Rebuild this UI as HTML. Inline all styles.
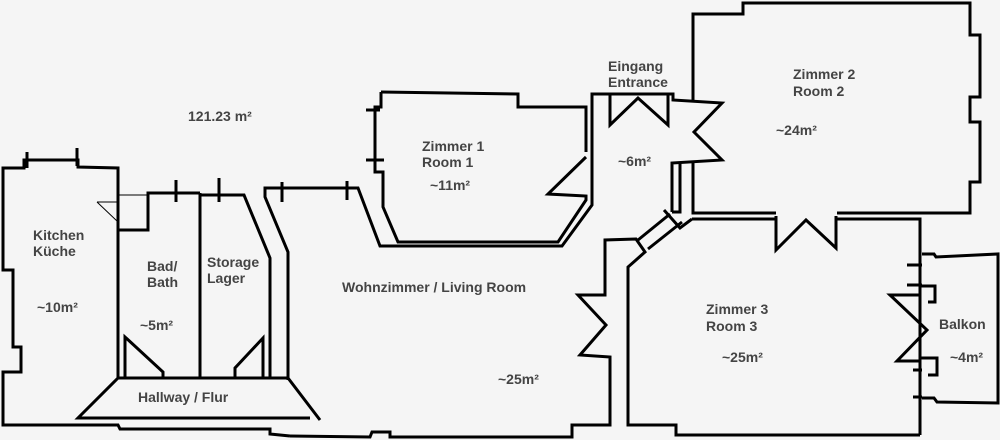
<!DOCTYPE html>
<html><head><meta charset="utf-8"><style>
html,body{margin:0;padding:0;background:#f5f5f5;}
svg{display:block}
text{font-family:"Liberation Sans","DejaVu Sans",sans-serif;font-size:14px;fill:#444;font-weight:bold}
</style></head><body>
<svg width="1000" height="440" viewBox="0 0 1000 440" xmlns="http://www.w3.org/2000/svg">
<rect width="1000" height="440" fill="#f5f5f5"/>
<g fill="none" stroke="#000" stroke-width="3" stroke-linejoin="miter">
<polyline points="118,378 118,168 78,167 78,160 24,160 24,168 3,168 3,270 13,270 13,347 21,347 21,372 3,372 3,425 118,425 120,429 270,429 270,434 290,436"/>
<line x1="27" y1="152" x2="27" y2="168"/><line x1="77" y1="148" x2="77" y2="166"/>
<polyline points="118,230 148,230 148,193 200,193"/>
<line x1="176" y1="180" x2="176" y2="202"/><line x1="219" y1="178" x2="219" y2="202"/>
<line x1="200" y1="193" x2="200" y2="378"/>
<polyline points="200,195 244,195 270,258 270,378"/>
<polyline points="163,378 163,372 125,337 125,378"/>
<polyline points="235,378 235,368 263,338 263,378"/>
<polyline points="118,378 288,378 320,420"/>
<polyline points="118,378 78,418 310,418"/>
<polyline points="288,380 288,252 265,197 265,188 358,188 380,246 562,246 592,205 592,94 673,94 673,100 722,103 694,132 722,160 672,163 672,212"/>
<line x1="282" y1="182" x2="282" y2="202"/><line x1="347" y1="181" x2="347" y2="200"/>
<polyline points="290,436 370,437 372,432 390,432 390,437 572,437 572,425 610,425 610,357 580,355 606,325 578,295 605,295 605,240 636,239 645,252 628,267 628,295"/>
<polyline points="628,295 628,425 676,425 676,435 920,435"/>
<polyline points="381,92 518,94 518,107 586,107 586,152"/>
<polyline points="381,92 381,107 375,107 375,172 383,172 383,207 398,242 558,242 586,200 586,196 548,194 586,157"/>
<line x1="366" y1="110" x2="380" y2="110"/><line x1="366" y1="160" x2="384" y2="160"/>
<polyline points="610,95 610,125 638,98 668,125 668,95"/>
<polyline points="693,101 693,14 743,14 743,3 970,3 970,35 980,35 980,97 970,97 970,122 980,122 980,182 970,182 970,213 837,213"/>
<polyline points="672,212 680,212 680,163"/>
<polyline points="693,163 693,213 776,213"/>
<polyline points="776,216 776,250 806,220 836,248 836,216"/>
<polyline points="692,219 776,219"/><polyline points="836,219 920,219 920,435"/>
<line x1="670" y1="214" x2="638" y2="240"/><line x1="682" y1="222" x2="648" y2="249"/>
<polyline points="664,210 680,228 692,219"/>
<polyline points="920,295 890,295 927,330 897,361 920,361"/>
<polyline points="922,254 934,254 936,257 998,254 998,403 937,402 934,398 922,398"/>
<line x1="907" y1="265" x2="922" y2="265"/><line x1="907" y1="285" x2="922" y2="285"/>
<line x1="913" y1="370" x2="922" y2="370"/><line x1="913" y1="397" x2="922" y2="397"/>
<polyline points="920,286 935,286 935,302 928,302"/>
<polyline points="920,358 937,358 937,375 928,375"/>
</g>
<g stroke="#000" stroke-width="1" fill="none">
<line x1="118" y1="195" x2="148" y2="195"/>
<polyline points="97,202 118,202 118,222 97,202"/>
</g>
<g>
<text x="188" y="121">121.23 m²</text>
<text x="33" y="240">Kitchen</text><text x="33" y="256">Küche</text>
<text x="37" y="312">~10m²</text>
<text x="147" y="271">Bad/</text><text x="147" y="287">Bath</text>
<text x="140" y="330">~5m²</text>
<text x="207" y="267">Storage</text><text x="207" y="283">Lager</text>
<text x="342" y="292">Wohnzimmer / Living Room</text>
<text x="498" y="384">~25m²</text>
<text x="138" y="402">Hallway / Flur</text>
<text x="422" y="151">Zimmer 1</text><text x="422" y="167">Room 1</text>
<text x="430" y="190">~11m²</text>
<text x="608" y="71">Eingang</text><text x="608" y="87">Entrance</text>
<text x="618" y="166">~6m²</text>
<text x="793" y="79">Zimmer 2</text><text x="793" y="96">Room 2</text>
<text x="776" y="135">~24m²</text>
<text x="706" y="314">Zimmer 3</text><text x="706" y="331">Room 3</text>
<text x="722" y="362">~25m²</text>
<text x="939" y="329">Balkon</text>
<text x="950" y="362">~4m²</text>
</g>
</svg>
</body></html>
